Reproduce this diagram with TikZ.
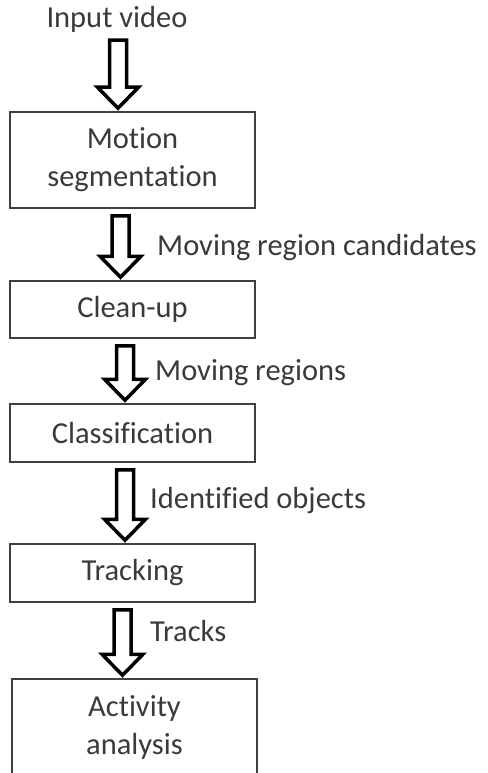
\documentclass[tikz,border=0pt]{standalone}
\usepackage{fontspec}
\setmainfont{Carlito}[Ligatures=NoCommon]
\usetikzlibrary{calc}
\definecolor{txtgray}{HTML}{3A3A3A}
\definecolor{boxgray}{HTML}{404040}
\newcommand{\flowfont}{\fontsize{30.5}{38}\selectfont}
\tikzset{
  stage/.style={draw=boxgray, line width=1.5pt, minimum width=245pt,
    text=txtgray, align=center, font=\flowfont, inner sep=0pt},
  lbl/.style={text=txtgray, font=\flowfont, inner sep=0pt},
  fatarrow/.style={draw=black, fill=white, line width=3.5pt, line join=miter}
}
% block arrow from the bottom of one node to the top of the next
\newcommand{\flowarrow}[3]{%
  \draw[fatarrow] let \p1=($(#2.south)+(#1,0)$), \p2=(#3.north) in
    (\x1-8.5pt,\y1-7pt) -- (\x1+8.5pt,\y1-7pt) -- (\x1+8.5pt,\y2+24pt)
    -- (\x1+20.5pt,\y2+24pt) -- (\x1,\y2+3pt) -- (\x1-20.5pt,\y2+24pt)
    -- (\x1-8.5pt,\y2+24pt) -- cycle;}
\begin{document}
\begin{tikzpicture}[x=1pt,y=-1pt]
    \useasboundingbox (0,0) rectangle (487,773);
    %% Stages
    \node[lbl, anchor=base] (input) at (117,28) {Input video};
    \node[stage, minimum height=96pt] (motion) at (132.5,160) {Motion\\segmentation};
    \node[stage, minimum height=57pt] (cleanup) at (132.5,309.5) {Clean-up};
    \node[stage, minimum height=58pt] (classif) at (132.5,433) {Classification};
    \node[stage, minimum height=58pt] (tracking) at (132.5,573) {Tracking};
    \node[stage, minimum height=96pt] (activity) at (134.5,727) {Activity\\analysis};
    %% Arrows
    \foreach \o/\a/\b in {1/input/motion, -12/motion/cleanup, -7.5/cleanup/classif,
                          -7.5/classif/tracking, -10/tracking/activity} {
        \flowarrow{\o}{\a}{\b}
    }
    %% Data passed on
    \node[lbl, anchor=base west] (candlbl) at (157,255) {Moving region candidates};
    \node[lbl, anchor=base west] (reglbl) at (155,380) {Moving regions};
    \node[lbl, anchor=base west] (objlbl) at (150,508) {Identified objects};
    \node[lbl, anchor=base west] (trklbl) at (150,641) {Tracks};
\end{tikzpicture}
\end{document}
